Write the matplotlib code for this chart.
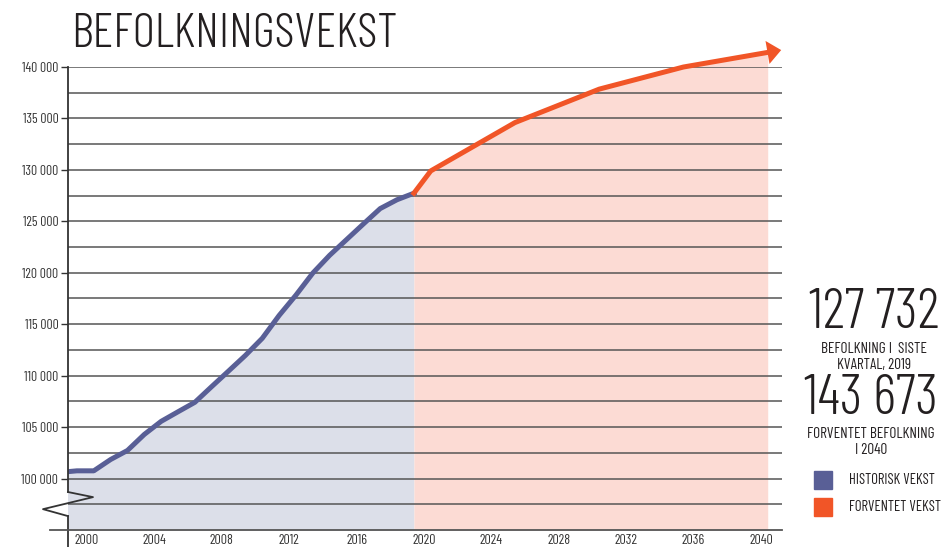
import matplotlib.pyplot as plt
import matplotlib.ticker as ticker
from matplotlib.patches import Rectangle
import numpy as np

# historical population
hist_years = [1998, 1999, 2000, 2001, 2002, 2003, 2004, 2005, 2006, 2007, 2008,
              2009, 2010, 2011, 2012, 2013, 2014, 2015, 2016, 2017, 2018, 2019]
hist_pop = [100600, 100750, 100750, 101850, 102730, 104290, 105560, 106490,
            107410, 108940, 110450, 111970, 113630, 115850, 117830, 119970,
            121700, 123220, 124740, 126240, 127100, 127732]

# projection
proj_years = [2019, 2020, 2025, 2030, 2035, 2040]
proj_pop = [127732, 129900, 134600, 137850, 140000, 141420]

x_ticks = [2000, 2004, 2008, 2012, 2016, 2020, 2024, 2028, 2032, 2036, 2040]
y_ticks = [100000, 105000, 110000, 115000, 120000, 125000, 130000, 135000, 140000]

TITLE = "BEFOLKNINGSVEKST"
now_value = "127 732"
now_text = "BEFOLKNING I  SISTE\nKVARTAL, 2019"
future_value = "143 673"
future_text = "FORVENTET BEFOLKNING\nI 2040"
legend_labels = ["HISTORISK VEKST", "FORVENTET VEKST"]

BLUE = "#595f96"
BLUE_FILL = "#dcdfe9"
ORANGE = "#f15527"
PINK_FILL = "#fcdbd4"
TXT = "#231f20"

plt.rcParams['font.family'] = ['Barlow Condensed', 'DejaVu Sans']

# data sits mid-year relative to the tick labels
OFFSET = 0.4


def fmt(v, pos):
    return "{:,.0f}".format(v).replace(",", " ")


def main():
    fig = plt.figure(figsize=(9.47, 5.47), dpi=100)
    ax = fig.add_axes([0.0718, 0.0311, 0.754, 0.8464])

    hx = np.array(hist_years) + OFFSET
    px = np.array(proj_years) + OFFSET

    ax.set_xlim(1998.87, 2041.25)
    ax.set_ylim(95000, 140000)

    ax.fill_between(hx, hist_pop, 95000, color=BLUE_FILL, lw=0, zorder=1)
    ax.fill_between(px, proj_pop, 95000, color=PINK_FILL, lw=0, zorder=1, clip_on=False)

    ax.yaxis.set_major_locator(ticker.FixedLocator(y_ticks))
    ax.yaxis.set_minor_locator(ticker.FixedLocator([v + 2500 for v in [95000] + y_ticks[:-1]]))
    ax.yaxis.set_major_formatter(ticker.FuncFormatter(fmt))
    ax.grid(axis='y', which='both', color='#555555', lw=1.1, zorder=2)
    ax.set_axisbelow(False)

    ax.plot(hx, hist_pop, color=BLUE, lw=3.6, zorder=4)
    ax.plot(px, proj_pop, color=ORANGE, lw=3.6, zorder=4, clip_on=False)
    # arrow head continuing the last segment
    dx = px[-1] - px[-2]
    dy = proj_pop[-1] - proj_pop[-2]
    ax.annotate('', xy=(px[-1] + 0.16 * dx, proj_pop[-1] + 0.16 * dy),
                xytext=(px[-1] - 0.02 * dx, proj_pop[-1] - 0.02 * dy),
                arrowprops=dict(arrowstyle='-|>,head_length=0.5,head_width=0.42',
                                mutation_scale=20, color=ORANGE, lw=0,
                                shrinkA=0, shrinkB=0),
                annotation_clip=False, zorder=5)

    ax.set_xticks(x_ticks)
    ax.tick_params(axis='x', length=0, pad=3, labelsize=10, labelcolor='#333333')
    ax.tick_params(axis='y', which='major', length=5, width=1, color='#333333',
                   pad=2, labelsize=9.8, labelcolor='#333333')
    ax.tick_params(axis='y', which='minor', length=0)

    for s in ['top', 'right', 'bottom', 'left']:
        ax.spines[s].set_visible(False)

    # y axis with break
    tr = ax.transAxes
    ax.plot([0, 0], [1, 0.082], color='#333333', lw=1.3, transform=tr, clip_on=False, zorder=6)
    ax.plot([0, 0.035, -0.035, 0], [0.082, 0.071, 0.045, 0.030], color='#333333', lw=1.3,
            transform=tr, clip_on=False, zorder=6)
    ax.plot([0, 0], [0.030, -0.04], color='#333333', lw=1.3, transform=tr, clip_on=False, zorder=6)
    ax.plot([-0.025, 1], [0, 0], color='#555555', lw=1.3, transform=tr, clip_on=False, zorder=6)

    fig.text(0.075, 0.936, TITLE, fontsize=35, fontweight=300, color=TXT,
             va='center', ha='left')

    fig.text(0.923, 0.426, now_value, fontsize=40, fontweight=300, color=TXT,
             ha='center', va='center')
    fig.text(0.923, 0.348, now_text, fontsize=11, color=TXT, ha='center', va='center',
             linespacing=1.2)
    fig.text(0.92, 0.270, future_value, fontsize=40, fontweight=300, color=TXT,
             ha='center', va='center')
    fig.text(0.92, 0.192, future_text, fontsize=11, color=TXT, ha='center', va='center',
             linespacing=1.2)

    for i, (lab, col) in enumerate(zip(legend_labels, [BLUE, ORANGE])):
        yb = 0.106 - i * 0.0493
        fig.patches.append(Rectangle((0.8596, yb), 0.019, 0.0329, color=col,
                                     transform=fig.transFigure, figure=fig))
        fig.text(0.8965, yb + 0.0165, lab, fontsize=10.6, color=TXT, va='center', ha='left')

    fig.savefig("out.png", dpi=100)


if __name__ == "__main__":
    main()
